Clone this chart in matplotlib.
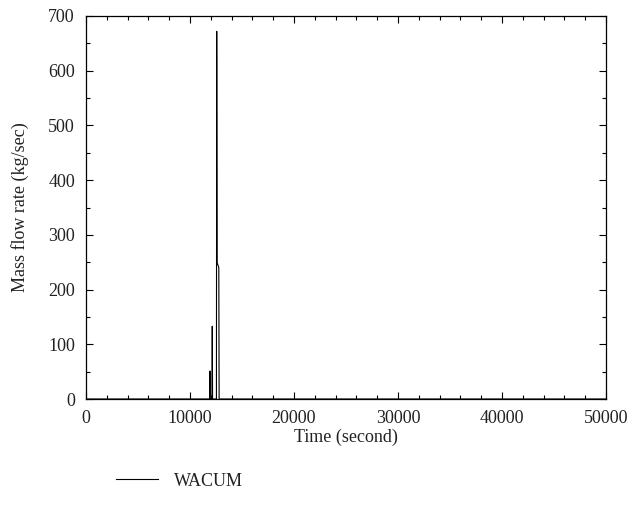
import matplotlib

matplotlib.use("Agg")
import matplotlib.pyplot as plt
from matplotlib.ticker import MultipleLocator

# WACUM mass flow rate vs time
time_s = [0, 11880, 11910, 11930, 11950, 12110, 12140, 12170,
          12540, 12570, 12610, 12650, 12770, 12800, 50000]
mass_flow = [0, 0, 51, 51, 0, 0, 133, 0,
             0, 672, 247, 247, 240, 0, 0]

TEXT = "#222222"
plt.rcParams["font.family"] = ["Liberation Serif", "DejaVu Serif"]
plt.rcParams["font.size"] = 13
plt.rcParams["text.color"] = TEXT
plt.rcParams["axes.labelcolor"] = TEXT
plt.rcParams["xtick.labelcolor"] = TEXT
plt.rcParams["ytick.labelcolor"] = TEXT

fig = plt.figure(figsize=(6.32, 5.22), dpi=100)
ax = fig.add_axes([86 / 632, 1 - 399 / 522, 520 / 632, 383 / 522])

line, = ax.plot(time_s, mass_flow, color="black", linewidth=0.8, label="WACUM")

ax.set_xlim(0, 50000)
ax.set_ylim(0, 700)
ax.xaxis.set_major_locator(MultipleLocator(10000))
ax.xaxis.set_minor_locator(MultipleLocator(2000))
ax.yaxis.set_major_locator(MultipleLocator(100))
ax.yaxis.set_minor_locator(MultipleLocator(50))
ax.tick_params(which="both", direction="in", top=True, right=True, labelsize=13)
ax.tick_params(which="major", length=5, width=0.8, pad=8)
ax.tick_params(which="minor", length=3, width=0.8)
for s in ax.spines.values():
    s.set_linewidth(0.9)

ax.set_xlabel("Time (second)", fontsize=13, labelpad=1)
ax.set_ylabel("Mass flow rate (kg/sec)", fontsize=13, labelpad=14)

fig.legend(handles=[line], loc="center left", bbox_to_anchor=(100 / 632, 1 - 481 / 522),
           frameon=False, fontsize=13, handlelength=2.3, handletextpad=0.9)

fig.savefig("out.png", dpi=100)
